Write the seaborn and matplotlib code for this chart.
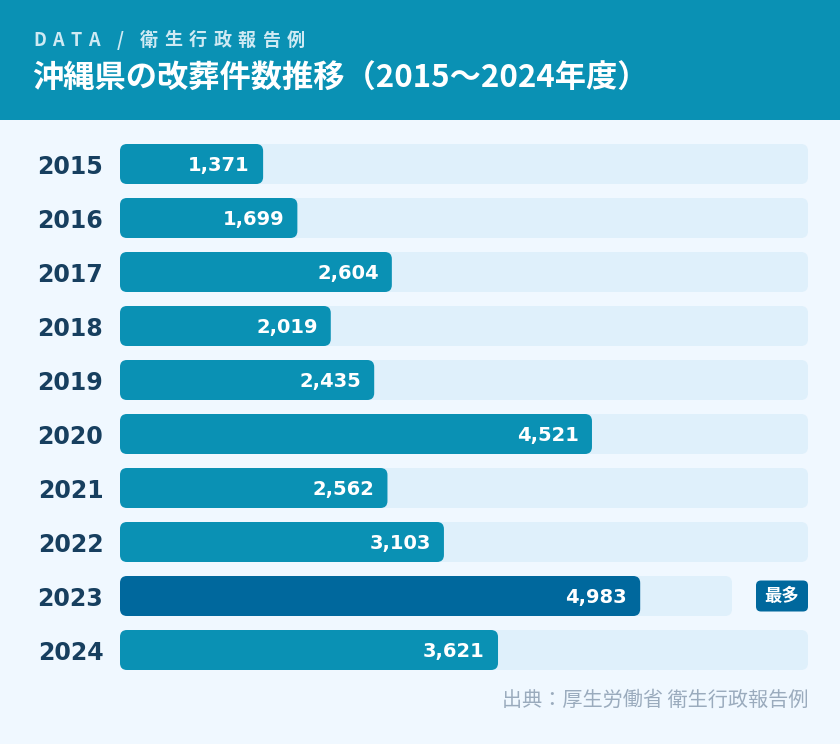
import matplotlib
matplotlib.use("Agg")
import matplotlib.pyplot as plt
import seaborn as sns
import pandas as pd
from matplotlib.patches import FancyBboxPatch, Rectangle

years = ["2015", "2016", "2017", "2018", "2019", "2020", "2021", "2022", "2023", "2024"]
values = [1371, 1699, 2604, 2019, 2435, 4521, 2562, 3103, 4983, 3621]
highlight_year = "2023"
title = "沖縄県の改葬件数推移（2015～2024年度）"
subtitle = "DATA / 衛生行政報告例"
badge_text = "最多"
source = "出典：厚生労働省 衛生行政報告例"

HEADER = "#0a91b4"
BAR = "#0a91b4"
HILITE = "#00689d"
TRACK = "#dff0fb"
BG = "#f0f8ff"
YEAR_C = "#173f5f"

sns.set_theme(style="white")
plt.rcParams["font.family"] = ["DejaVu Sans", "Noto Sans CJK JP"]
JP = ["Noto Sans CJK JP", "DejaVu Sans"]

W, H = 840, 744
fig = plt.figure(figsize=(W / 100, H / 100), dpi=100, facecolor=BG)
renderer = fig.canvas.get_renderer()

# header band
fig.patches.append(Rectangle((0, 1 - 120 / H), 1, 120 / H, transform=fig.transFigure,
                             facecolor=HEADER, edgecolor="none", zorder=0))
# subtitle with letter spacing
x = 33
for ch in subtitle:
    if ch == " ":
        x += 10
        continue
    t = fig.text(x / W, 1 - 40 / H, ch, color="#cfeaf3", fontsize=13, fontweight="bold",
                 family=JP, va="center", ha="left")
    bb = t.get_window_extent(renderer=renderer)
    x += bb.width + 6.5
fig.text(32 / W, 1 - 79 / H, title, color="white", fontsize=22.5, fontweight="bold",
         family=JP, va="center", ha="left")

ax = fig.add_axes([120 / W, 1 - 677 / H, 688 / W, 540 / H])
ax.set_facecolor("none")

vmax = max(values)
x_max = vmax / 0.85 * 688 / 612
track_full = x_max
track_hi = vmax / 0.85

df = pd.DataFrame({"year": years, "value": values})
df["track"] = [track_hi if y == highlight_year else track_full for y in years]

sns.barplot(data=df, x="track", y="year", orient="h", color=TRACK, width=40 / 54,
            ax=ax, saturation=1)
n_track = len(ax.patches)
sns.barplot(data=df, x="value", y="year", orient="h", color=BAR, width=40 / 54,
            ax=ax, saturation=1)

ax.set_xlim(0, x_max)
ax.set_ylim(len(years) - 0.5, -0.5)

# convert bars to rounded boxes
ux = x_max / 688.0
uy = (len(years)) / 540.0
rad_px = 7
patches = list(ax.patches)
for i, p in enumerate(patches):
    x0, y0 = p.get_x(), p.get_y()
    w, h = p.get_width(), p.get_height()
    fc = p.get_facecolor()
    idx = i % len(years)
    if i >= n_track and years[idx] == highlight_year:
        fc = HILITE
    p.remove()
    fb = FancyBboxPatch((x0, y0), w, h,
                        boxstyle=f"round,pad=0,rounding_size={rad_px * ux}",
                        mutation_aspect=uy / ux, facecolor=fc, edgecolor="none",
                        zorder=2 if i >= n_track else 1)
    ax.add_patch(fb)

for i, (y, v) in enumerate(zip(years, values)):
    ax.annotate(f"{v:,}", xy=(v, i), xytext=(-9.5, -5.0), textcoords="offset points",
                ha="right", va="baseline", color="white", fontsize=14, fontweight="bold",
                zorder=3)

# badge
hi = years.index(highlight_year)
bx0 = x_max - 52 * ux
badge = FancyBboxPatch((bx0, hi - 15.5 * uy), 52 * ux, 31 * uy,
                       boxstyle=f"round,pad=0,rounding_size={5 * ux}",
                       mutation_aspect=uy / ux, facecolor=HILITE, edgecolor="none",
                       clip_on=False, zorder=3)
ax.add_patch(badge)
ax.text(bx0 + 26 * ux, hi, badge_text, ha="center", va="center", color="white",
        fontsize=12.5, fontweight="bold", family=JP, zorder=4)

ax.set_xlabel("")
ax.set_ylabel("")
ax.set_xticks([])
ax.tick_params(axis="y", length=0, pad=12)
for lab in ax.get_yticklabels():
    lab.set_fontsize(17)
    lab.set_fontweight("bold")
    lab.set_color(YEAR_C)
sns.despine(ax=ax, left=True, bottom=True)

fig.text(808 / W, 1 - 700 / H, source, ha="right", va="center", color="#9aabbd",
         fontsize=14.5, family=JP)

fig.savefig("out.png", dpi=100, facecolor=BG)
